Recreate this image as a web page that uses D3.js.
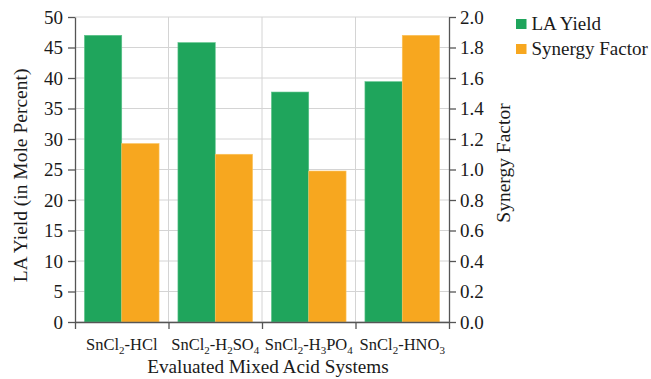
<!DOCTYPE html>
<html>
<head>
<meta charset="utf-8">
<script src="https://cdn.jsdelivr.net/npm/d3@7"></script>
<style>
  html, body { margin: 0; padding: 0; background: #fff; }
  svg { display: block; font-family: "Liberation Serif", "Times New Roman", serif; }
</style>
</head>
<body>
<svg id="chart" width="651" height="379"></svg>
<script>
// Mixed acid systems as text parts: [text, isSubscript]
const systems = [
  [["SnCl", false], ["2", true], ["-HCl", false]],
  [["SnCl", false], ["2", true], ["-H", false], ["2", true], ["SO", false], ["4", true]],
  [["SnCl", false], ["2", true], ["-H", false], ["3", true], ["PO", false], ["4", true]],
  [["SnCl", false], ["2", true], ["-HNO", false], ["3", true]]
];
const systemKeys = ["HCl", "H2SO4", "H3PO4", "HNO3"];
const laYield = [47.0, 45.8, 37.7, 39.4];
const synergyFactor = [1.17, 1.10, 0.99, 1.88];
const leftTicks = [0, 5, 10, 15, 20, 25, 30, 35, 40, 45, 50];
const rightTicks = [0, 0.2, 0.4, 0.6, 0.8, 1.0, 1.2, 1.4, 1.6, 1.8, 2.0];
const seriesNames = ["LA Yield", "Synergy Factor"];
const seriesColors = ["#1fa55c", "#f7a71f"];

const svg = d3.select("#chart");
const margin = { left: 75, right: 202, top: 17, bottom: 57 };
const W = 651, H = 379;
const x0 = margin.left, x1 = W - margin.right;
const yTop = margin.top, yBot = H - margin.bottom;
const textColor = "#1a1a1a";

const x = d3.scaleBand().domain(systemKeys).range([x0, x1]).padding(0);
const inner = d3.scaleBand().domain([0, 1]).range([0, x.bandwidth()]).paddingOuter(0.253).paddingInner(0);
const yL = d3.scaleLinear().domain([0, 50]).range([yBot, yTop]);
const yR = d3.scaleLinear().domain([0, 2]).range([yBot, yTop]);

// Gridlines
const grid = svg.append("g");
grid.selectAll("line.h").data(leftTicks).join("line")
  .attr("x1", x0).attr("x2", x1)
  .attr("y1", d => yL(d)).attr("y2", d => yL(d))
  .attr("stroke", "#d4d4d4").attr("stroke-width", 1);
grid.selectAll("line.v").data(systemKeys.slice(1)).join("line")
  .attr("x1", d => x(d)).attr("x2", d => x(d))
  .attr("y1", yTop).attr("y2", yBot)
  .attr("stroke", "#d4d4d4").attr("stroke-width", 1);

// Bars
const bars = svg.append("g");
systemKeys.forEach((k, i) => {
  bars.append("rect")
    .attr("x", x(k) + inner(0)).attr("width", inner.bandwidth())
    .attr("y", yL(laYield[i])).attr("height", yBot - yL(laYield[i]))
    .attr("fill", seriesColors[0]).attr("stroke", "#5cc38a").attr("stroke-width", 0.6);
  bars.append("rect")
    .attr("x", x(k) + inner(1)).attr("width", inner.bandwidth())
    .attr("y", yR(synergyFactor[i])).attr("height", yBot - yR(synergyFactor[i]))
    .attr("fill", seriesColors[1]).attr("stroke", "#fbc35e").attr("stroke-width", 0.6);
});

// Axes
const axisColor = "#555";
const fmtR = d3.format(".1f");
const gl = svg.append("g").attr("transform", `translate(${x0},0)`)
  .call(d3.axisLeft(yL).tickValues(leftTicks).tickSize(7).tickPadding(5).tickSizeOuter(0));
const gr = svg.append("g").attr("transform", `translate(${x1},0)`)
  .call(d3.axisRight(yR).tickValues(rightTicks).tickFormat(fmtR).tickSize(7).tickPadding(4).tickSizeOuter(0));
const xb = d3.scaleLinear().domain([0, 4]).range([x0, x1]);
const gb = svg.append("g").attr("transform", `translate(0,${yBot})`)
  .call(d3.axisBottom(xb).tickValues([0, 1, 2, 3, 4]).tickFormat("").tickSize(7).tickSizeOuter(0));

[gl, gr, gb].forEach(g => {
  g.select(".domain").attr("stroke", axisColor).attr("stroke-width", 1.3);
  g.selectAll(".tick line").attr("stroke", axisColor).attr("stroke-width", 1.3);
  g.selectAll("text").attr("fill", textColor).attr("font-size", 19)
    .attr("font-family", "Liberation Serif, serif");
});

// Category labels with subscripts
const catG = svg.append("g");
systems.forEach((parts, i) => {
  const t = catG.append("text")
    .attr("x", x(systemKeys[i]) + x.bandwidth() / 2)
    .attr("y", yBot + 28)
    .attr("text-anchor", "middle")
    .attr("font-size", 16.5).attr("fill", textColor);
  let prevSub = false;
  parts.forEach(([s, sub]) => {
    t.append("tspan").text(s)
      .attr("font-size", sub ? 11 : null)
      .attr("dy", sub ? 4 : (prevSub ? -4 : 0));
    prevSub = sub;
  });
});

// Axis titles
svg.append("text")
  .attr("x", (x0 + x1) / 2 + 6).attr("y", 373)
  .attr("text-anchor", "middle").attr("font-size", 19.2).attr("fill", textColor)
  .text("Evaluated Mixed Acid Systems");
svg.append("text")
  .attr("transform", `translate(27,${(yTop + yBot) / 2 + 6}) rotate(-90)`)
  .attr("text-anchor", "middle").attr("font-size", 19.5).attr("fill", textColor)
  .text("LA Yield (in Mole Percent)");
svg.append("text")
  .attr("transform", `translate(510,163) rotate(-90)`)
  .attr("text-anchor", "middle").attr("font-size", 19.5).attr("fill", textColor)
  .text("Synergy Factor");

// Legend
const leg = svg.append("g").attr("transform", "translate(516,19)");
seriesNames.forEach((name, i) => {
  const row = leg.append("g").attr("transform", `translate(0,${i * 25})`);
  row.append("rect").attr("width", 10.5).attr("height", 10).attr("fill", seriesColors[i]);
  row.append("text").attr("x", 15.5).attr("y", 11)
    .attr("font-size", 19).attr("fill", textColor).text(name);
});
</script>
</body>
</html>
